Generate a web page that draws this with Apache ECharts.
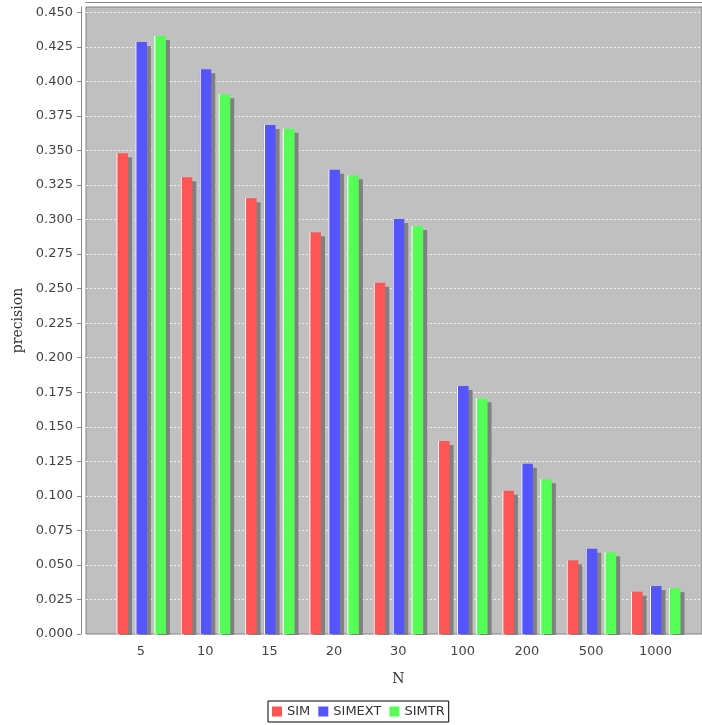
<!DOCTYPE html>
<html>
<head>
<meta charset="utf-8">
<script src="https://cdn.jsdelivr.net/npm/echarts@6/dist/echarts.min.js"></script>
<style>html,body{margin:0;padding:0;background:#fff}#c{width:702px;height:725px}</style>
</head>
<body>
<div id="c"></div>
<script>
const categories = ['5', '10', '15', '20', '30', '100', '200', '500', '1000'];
const SIM    = [0.3480, 0.3306, 0.3154, 0.2908, 0.2543, 0.1397, 0.1036, 0.0533, 0.0306];
const SIMEXT = [0.4285, 0.4087, 0.3684, 0.3360, 0.3004, 0.1795, 0.1233, 0.0617, 0.0347];
const SIMTR  = [0.4328, 0.3906, 0.3657, 0.3320, 0.2953, 0.1706, 0.1120, 0.0591, 0.0332];
const yTicks = [0, 0.025, 0.05, 0.075, 0.1, 0.125, 0.15, 0.175, 0.2, 0.225, 0.25, 0.275, 0.3, 0.325, 0.35, 0.375, 0.4, 0.425, 0.45];
const yMax = 0.4538;

function grad(light, base) {
  return new echarts.graphic.LinearGradient(0, 0, 1, 0, [
    {offset: 0, color: light},
    {offset: 0.08, color: '#ffffff'},
    {offset: 0.16, color: base},
    {offset: 1, color: base}
  ]);
}
function barSeries(name, data, light, base) {
  return {
    name: name, type: 'bar', xAxisIndex: 0, yAxisIndex: 0, data: data,
    barWidth: 12, barGap: '58%',
    itemStyle: {color: grad(light, base), shadowColor: '#808080', shadowOffsetX: 4, shadowOffsetY: 4, shadowBlur: 0},
    emphasis: {disabled: true}
  };
}
const font = 'DejaVu Sans';
const chart = echarts.init(document.getElementById('c'), null, {renderer: 'canvas'});
chart.setOption({
  animation: false,
  backgroundColor: '#ffffff',
  grid: [
    {left: 108.8, right: 14.3, top: 7, bottom: 91, show: false},
    {left: 86, right: 0, top: 7, bottom: 91, show: true, backgroundColor: '#c0c0c0', borderColor: '#808080', borderWidth: 1, z: -1}
  ],
  xAxis: [
    {type: 'category', gridIndex: 0, data: categories,
     axisLine: {show: false}, axisTick: {show: false},
     axisLabel: {margin: 11, fontFamily: font, fontSize: 13, color: '#444'},
     name: 'N', nameLocation: 'middle', nameGap: 38,
     nameTextStyle: {fontFamily: 'DejaVu Serif', fontSize: 14, color: '#333'}},
    {type: 'value', gridIndex: 1, min: 0, max: 1, offset: 2.5, z: 5,
     axisLine: {show: true, onZero: false, lineStyle: {color: '#ffffff', width: 3}},
     axisTick: {show: false}, axisLabel: {show: false}, splitLine: {show: false}},
    {type: 'value', gridIndex: 1, min: 0, max: 1, offset: 5, z: 6,
     axisLine: {show: true, onZero: false, lineStyle: {color: '#888888', width: 1}},
     axisTick: {show: false}, axisLabel: {show: false}, splitLine: {show: false}}
  ],
  yAxis: [
    {type: 'value', gridIndex: 0, min: 0, max: yMax, show: false, splitLine: {show: false}},
    {type: 'value', gridIndex: 1, min: 0, max: yMax, offset: 5,
     axisLine: {show: true, onZero: false, lineStyle: {color: '#888888'}},
     axisTick: {show: true, length: 4, inside: false, customValues: yTicks, lineStyle: {color: '#888888'}},
     axisLabel: {customValues: yTicks, margin: 8, fontFamily: font, fontSize: 13, color: '#444',
                 formatter: v => v.toFixed(3)},
     splitLine: {show: true, showMinLine: false, lineStyle: {color: '#f0f0f0', type: [2, 2], width: 1}},
     name: 'precision', nameLocation: 'middle', nameGap: 49,
     nameTextStyle: {fontFamily: 'DejaVu Serif', fontSize: 14, color: '#333'}}
  ],
  legend: {
    left: 268, top: 701, orient: 'horizontal',
    itemWidth: 10, itemHeight: 10, itemGap: 8,
    padding: [4, 4, 4, 4],
    borderColor: '#000000', borderWidth: 1, backgroundColor: '#ffffff',
    textStyle: {fontFamily: font, fontSize: 13, color: '#333'},
    data: [
      {name: 'SIM', icon: 'rect', itemStyle: {color: '#ff5555', shadowBlur: 0, shadowOffsetX: 0, shadowOffsetY: 0, shadowColor: 'transparent'}},
      {name: 'SIMEXT', icon: 'rect', itemStyle: {color: '#5555ff', shadowBlur: 0, shadowOffsetX: 0, shadowOffsetY: 0, shadowColor: 'transparent'}},
      {name: 'SIMTR', icon: 'rect', itemStyle: {color: '#55ff55', shadowBlur: 0, shadowOffsetX: 0, shadowOffsetY: 0, shadowColor: 'transparent'}}
    ],
    selectedMode: false
  },
  series: [
    barSeries('SIM', SIM, '#ff9a9a', '#ff5555'),
    barSeries('SIMEXT', SIMEXT, '#9a9aff', '#5555ff'),
    barSeries('SIMTR', SIMTR, '#9aff9a', '#55ff55')
  ]
});
</script>
</body>
</html>
